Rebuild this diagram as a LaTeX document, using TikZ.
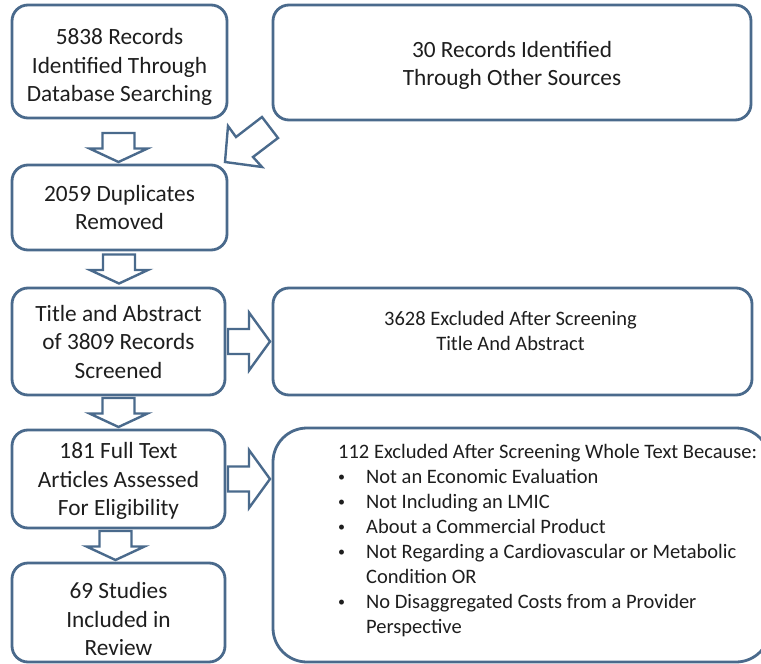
\documentclass[tikz,border=0pt]{standalone}
\usepackage{fontspec}
\setmainfont{Carlito}
\usetikzlibrary{calc}
\definecolor{bc}{RGB}{74,106,140}
\definecolor{tc}{RGB}{30,30,30}
\newcommand{\smbul}{\makebox[28pt][l]{\raisebox{2pt}{\fontsize{14}{14}\selectfont\textbullet}}}
\newcommand{\nobul}{\makebox[28pt][l]{}}
\tikzset{
  box/.style={draw=bc, line width=2.8pt, rounded corners=16pt, fill=white, inner sep=0pt, align=center, text=tc, font=\fontsize{23.3}{28.5}\selectfont},
  blockarr/.style={draw=bc, line width=2.4pt, fill=white, line join=miter},
  rtext/.style={inner sep=0pt, align=center, text=tc, font=\fontsize{20.5}{25}\selectfont},
  downarr/.pic={\draw[blockarr] (-16,-14.5) -- (16,-14.5) -- (16,1) -- (29,1) -- (0,14.5) -- (-29,1) -- (-16,1) -- cycle;},
  rightarr/.pic={\draw[blockarr] (-21,-12.5) -- (0,-12.5) -- (0,-29) -- (21,0) -- (0,29) -- (0,12.5) -- (-21,12.5) -- cycle;}
}
\begin{document}
\begin{tikzpicture}[x=1pt,y=-1pt]
\useasboundingbox (0,0) rectangle (761,664);
\clip (0,0) rectangle (761,664);
\fill[white] (0,0) rectangle (761,664);
% left column
\node[box, minimum width=215, minimum height=113] (b1) at (119.5,61.5) {\rule{0pt}{28pt}5838 Records\\Identified Through\\Database Searching};
\node[box, minimum width=478, minimum height=115] (b0) at (512,62.5) {\rule{0pt}{22pt}30 Records Identified\\Through Other Sources};
\node[box, minimum width=215, minimum height=85] (b2) at (119.5,207.5) {2059 Duplicates\\Removed};
\node[box, minimum width=213, minimum height=107] (b3) at (118.5,341.5) {Title and Abstract\\of 3809 Records\\Screened};
\node[box, minimum width=479, minimum height=107] (b3x) at (512.5,341.5) {};
\node[rtext] (t3x) at ($(b3x.center)+(-2,-11)$) {3628 Excluded After Screening\\Title And Abstract};
\node[box, minimum width=213, minimum height=98] (b4) at (118.5,479) {\rule{0pt}{20pt}181 Full Text\\Articles Assessed\\For Eligibility};
\node[box, rounded corners=34pt, minimum width=497, minimum height=234] (b4x) at (521.5,545) {};
\node[rtext, align=left, anchor=north west] (t4x) at (338,444) {112 Excluded After Screening Whole Text Because:\\
\smbul Not an Economic Evaluation\\
\smbul Not Including an LMIC\\
\smbul About a Commercial Product\\
\smbul Not Regarding a Cardiovascular or Metabolic\\
\nobul Condition OR\\
\smbul No Disaggregated Costs from a Provider\\
\nobul Perspective};
\node[box, minimum width=213, minimum height=99] (b5) at (118.5,612.5) {\rule{0pt}{30pt}69 Studies\\Included in\\Review};
% block arrows
\pic at ($(b1.south)!.5!(b2.north)+(-1,6)$) {downarr};
\pic at ($(b2.south)!.5!(b3.north)$) {downarr};
\pic at ($(b3.south)!.5!(b4.north)$) {downarr};
\pic at ($(b4.south)!.5!(b5.north)+(-3,0)$) {downarr};
\pic at ($(b3.east)!.5!(b3x.west)$) {rightarr};
\pic at ($(b4.east)!.5!(b4x.west |- b4.east)$) {rightarr};
\draw[blockarr] (225,162) -- (228,126) -- (236,137) -- (262,117) -- (278,138) -- (253,157) -- (262,167) -- cycle;
\end{tikzpicture}
\end{document}
